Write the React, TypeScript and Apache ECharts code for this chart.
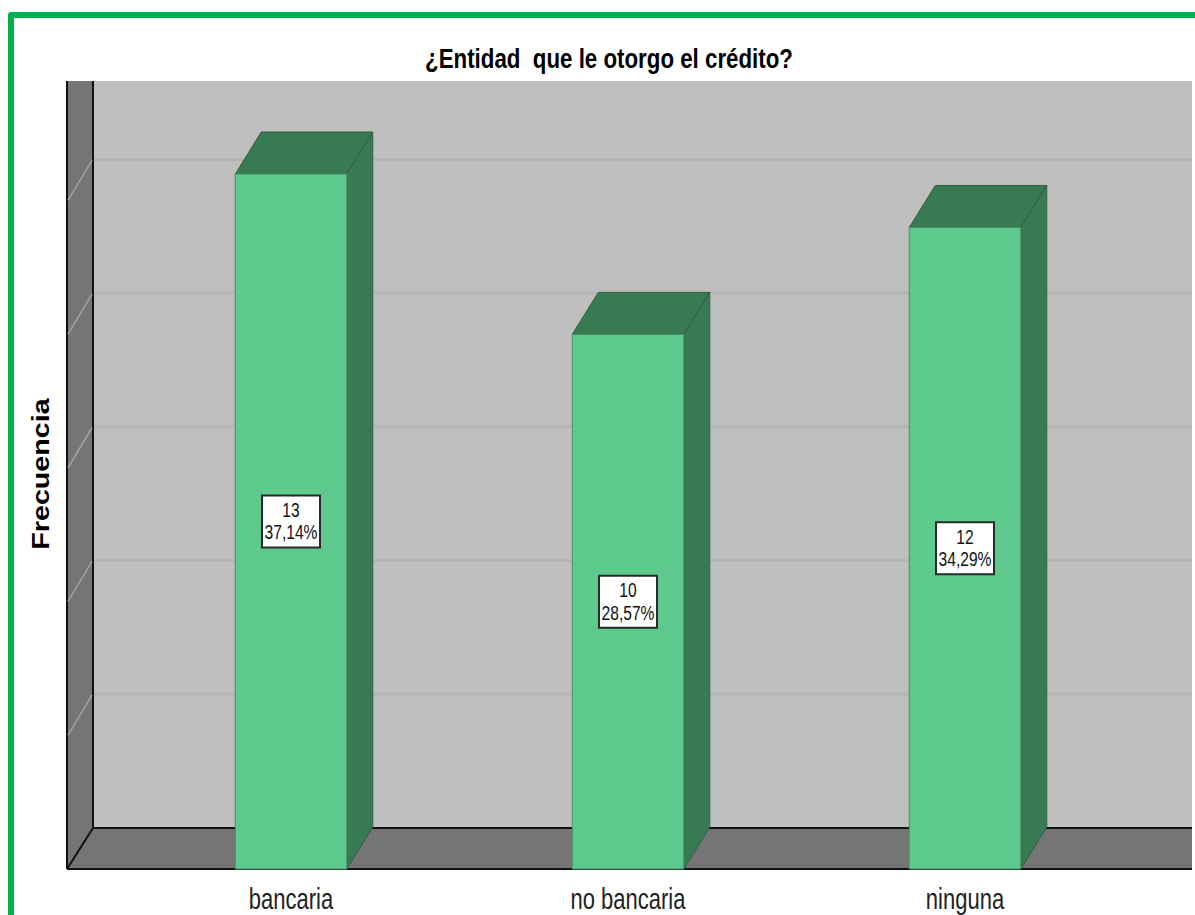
import React, { useEffect, useRef } from "react";
import * as echarts from "echarts";

const categories = ["bancaria", "no bancaria", "ninguna"];
const counts = [13, 10, 12];
const percents = ["37,14%", "28,57%", "34,29%"];
const gridValues = [2.5, 5, 7.5, 10, 12.5];
const titleText = "¿Entidad  que le otorgo el crédito?";
const yName = "Frecuencia";

const DEPTH_X = 26;
const DEPTH_Y = 42;
const BAR_RATIO = 111.5 / 337;
const PLOT_LEFT = 67;
const PLOT_RIGHT = 1192;
const PLOT_TOP = 81;
const WALL = "#757575";
const BACK = "#bfbfbf";
const FRONT = "#5ec98c";
const DARK = "#387a52";

export default function App() {
  const ref = useRef<HTMLDivElement>(null);
  useEffect(() => {
    const chart = echarts.init(ref.current!, undefined, { renderer: "svg" });
    chart.setOption({
      animation: false,
      backgroundColor: "#ffffff",
      graphic: [
        {
          type: "polyline",
          z: 100,
          shape: { points: [[11, 915], [11, 15], [1195, 15]] },
          style: { stroke: "#00b050", lineWidth: 6, fill: "none", lineJoin: "round" },
        },
        {
          type: "text",
          z: 100,
          x: 609,
          y: 59,
          scaleY: 1.2,
          style: {
            text: titleText,
            font: "bold 22.3px 'Liberation Sans'",
            fill: "#000000",
            align: "center",
            verticalAlign: "middle",
          },
        },
        {
          type: "text",
          z: 100,
          x: 41,
          y: 474,
          rotation: Math.PI / 2,
          scaleX: 1.22,
          style: {
            text: yName,
            font: "bold 23.5px 'Liberation Sans'",
            fill: "#000000",
            align: "center",
            verticalAlign: "middle",
          },
        },
      ],
      grid: { left: 122.5, width: 1011, top: PLOT_TOP, height: 788, containLabel: false },
      xAxis: {
        type: "category",
        data: categories,
        axisLine: { show: false },
        axisTick: { show: false },
        axisLabel: { show: false },
      },
      yAxis: {
        type: "value",
        min: 0,
        max: 14.74,
        axisLine: { show: false },
        axisTick: { show: false },
        axisLabel: { show: false },
        splitLine: { show: false },
      },
      series: [
        {
          type: "custom",
          z: 1,
          clip: false,
          silent: true,
          data: [[0, 0]],
          encode: { x: 0, y: 1 },
          renderItem: (_p: any, api: any) => {
            const base = api.coord([0, 0])[1];
            const backBase = base - DEPTH_Y + 1;
            const line = (x1: number, y1: number, x2: number, y2: number, stroke = "#111111", lineWidth = 2) => ({
              type: "line",
              shape: { x1, y1, x2, y2 },
              style: { stroke, lineWidth },
            });
            return {
              type: "group",
              children: [
                {
                  type: "rect",
                  shape: { x: PLOT_LEFT + DEPTH_X, y: PLOT_TOP, width: PLOT_RIGHT - PLOT_LEFT - DEPTH_X, height: backBase - PLOT_TOP },
                  style: { fill: BACK },
                },
                {
                  type: "polygon",
                  shape: { points: [[PLOT_LEFT, PLOT_TOP], [PLOT_LEFT + DEPTH_X, PLOT_TOP], [PLOT_LEFT + DEPTH_X, backBase], [PLOT_LEFT, base]] },
                  style: { fill: WALL },
                },
                {
                  type: "polygon",
                  shape: { points: [[PLOT_LEFT, base], [PLOT_LEFT + DEPTH_X, backBase], [PLOT_RIGHT, backBase], [PLOT_RIGHT, base]] },
                  style: { fill: WALL },
                },
                line(PLOT_LEFT, PLOT_TOP, PLOT_LEFT, base),
                line(PLOT_LEFT + DEPTH_X, PLOT_TOP, PLOT_LEFT + DEPTH_X, backBase),
                line(PLOT_LEFT + DEPTH_X, backBase, PLOT_RIGHT, backBase),
                line(PLOT_LEFT, base, PLOT_LEFT + DEPTH_X, backBase),
                line(PLOT_LEFT, base, PLOT_RIGHT, base),
              ],
            };
          },
        },
        {
          type: "custom",
          z: 2,
          clip: false,
          silent: true,
          data: gridValues.map((v) => [0, v]),
          encode: { x: 0, y: 1 },
          renderItem: (_p: any, api: any) => {
            const y = api.coord([0, api.value(1)])[1] + 0.7;
            return {
              type: "group",
              children: [
                {
                  type: "line",
                  shape: { x1: PLOT_LEFT + DEPTH_X + 1, y1: y - DEPTH_Y, x2: PLOT_RIGHT, y2: y - DEPTH_Y },
                  style: { stroke: "#b5b5b5", lineWidth: 3 },
                },
                {
                  type: "line",
                  shape: { x1: PLOT_LEFT + 1, y1: y - 1, x2: PLOT_LEFT + DEPTH_X - 1, y2: y - DEPTH_Y + 1 },
                  style: { stroke: "#a2a2a2", lineWidth: 1.5 },
                },
              ],
            };
          },
        },
        {
          type: "custom",
          z: 3,
          clip: false,
          data: counts.map((c, i) => [i, c]),
          encode: { x: 0, y: 1 },
          renderItem: (_p: any, api: any) => {
            const i = api.value(0);
            const v = api.value(1);
            const [cx, top] = api.coord([i, v]);
            const base = api.coord([i, 0])[1];
            const w = api.size([1, 0])[0] * BAR_RATIO;
            const l = cx - w / 2;
            const r = cx + w / 2;
            const edge = { stroke: "#2f5f43", lineWidth: 1 };
            const midY = (top + base) / 2;
            const bw = 58;
            const bh = 52;
            return {
              type: "group",
              children: [
                {
                  type: "polygon",
                  shape: { points: [[l, top], [l + DEPTH_X, top - DEPTH_Y], [r + DEPTH_X, top - DEPTH_Y], [r, top]] },
                  style: { fill: DARK, ...edge },
                },
                {
                  type: "polygon",
                  shape: { points: [[r, top], [r + DEPTH_X, top - DEPTH_Y], [r + DEPTH_X, base - DEPTH_Y], [r, base]] },
                  style: { fill: DARK, ...edge },
                },
                {
                  type: "rect",
                  shape: { x: l, y: top, width: w, height: base - top },
                  style: { fill: FRONT, stroke: "#4a8f68", lineWidth: 1 },
                },
                {
                  type: "rect",
                  shape: { x: cx - bw / 2, y: midY - bh / 2, width: bw, height: bh },
                  style: { fill: "#ffffff", stroke: "#2a2a2a", lineWidth: 2 },
                },
                {
                  type: "text",
                  x: cx,
                  y: midY,
                  scaleY: 1.25,
                  style: {
                    text: `${v}\n${percents[i]}`,
                    font: "15.6px 'Liberation Sans'",
                    lineHeight: 18,
                    fill: "#111111",
                    align: "center",
                    verticalAlign: "middle",
                  },
                },
                {
                  type: "text",
                  x: cx,
                  y: base + 30,
                  scaleY: 1.35,
                  style: {
                    text: categories[i],
                    font: "22px 'Liberation Sans'",
                    fill: "#222222",
                    align: "center",
                    verticalAlign: "middle",
                  },
                },
              ],
            };
          },
        },
      ],
    });
    return () => chart.dispose();
  }, []);
  return <div ref={ref} style={{ position: "absolute", left: 0, top: 0, width: 1195, height: 915, overflow: "hidden" }} />;
}
